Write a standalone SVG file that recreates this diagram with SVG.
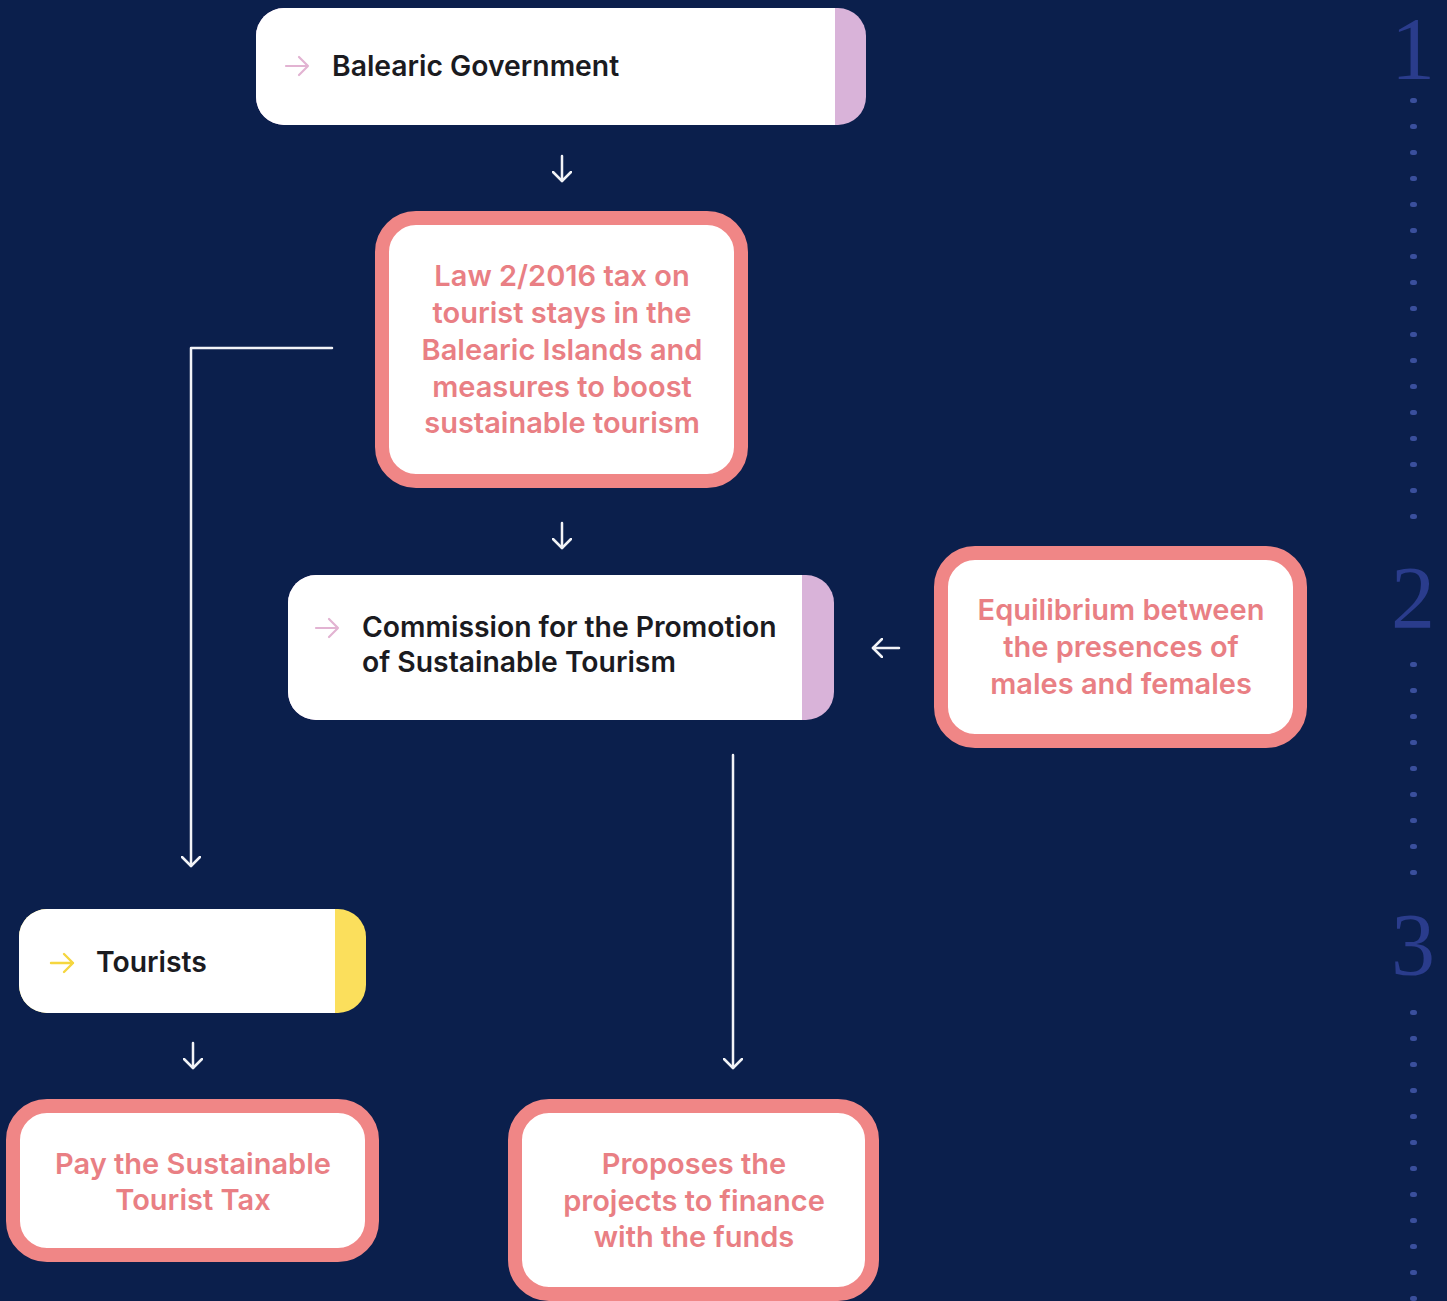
<svg xmlns="http://www.w3.org/2000/svg" width="1447" height="1301" viewBox="0 0 1447 1301">
<defs>
<style>
.dark{font-family:Inter,"Liberation Sans",sans-serif;font-weight:600;font-size:28.3px;fill:#1b1b1f}
.pink{font-family:Inter,"Liberation Sans",sans-serif;font-weight:600;font-size:29px;fill:#e97f84;text-anchor:middle}
.pbox{fill:#ffffff;stroke:#f08686;stroke-width:14}
.conn{fill:none;stroke:#f2f3f7;stroke-width:2.5;stroke-linecap:round;stroke-linejoin:round}
.num{font-family:"Liberation Serif","DejaVu Serif",serif;font-size:88px;fill:#2a3c8c;text-anchor:middle}
.dot{fill:#3a4f9c}
</style>
<marker id="chev" viewBox="0 0 20 20" refX="10" refY="10" markerWidth="20" markerHeight="20" markerUnits="userSpaceOnUse" orient="auto">
<path d="M1 1 L10 10 L1 19" fill="none" stroke="#f2f3f7" stroke-width="2.5" stroke-linecap="round" stroke-linejoin="round"/>
</marker>
</defs>
<rect width="1447" height="1301" fill="#0b1f4c"/>

<g id="steps">
<text class="num" x="1413" y="78">1</text>
<text class="num" x="1413" y="627">2</text>
<text class="num" x="1413" y="974">3</text>
<g id="dots1">
<rect class="dot" x="1410" y="98" width="7" height="5" rx="2.5"/>
<rect class="dot" x="1410" y="124" width="7" height="5" rx="2.5"/>
<rect class="dot" x="1410" y="150" width="7" height="5" rx="2.5"/>
<rect class="dot" x="1410" y="176" width="7" height="5" rx="2.5"/>
<rect class="dot" x="1410" y="202" width="7" height="5" rx="2.5"/>
<rect class="dot" x="1410" y="228" width="7" height="5" rx="2.5"/>
<rect class="dot" x="1410" y="254" width="7" height="5" rx="2.5"/>
<rect class="dot" x="1410" y="280" width="7" height="5" rx="2.5"/>
<rect class="dot" x="1410" y="306" width="7" height="5" rx="2.5"/>
<rect class="dot" x="1410" y="332" width="7" height="5" rx="2.5"/>
<rect class="dot" x="1410" y="358" width="7" height="5" rx="2.5"/>
<rect class="dot" x="1410" y="384" width="7" height="5" rx="2.5"/>
<rect class="dot" x="1410" y="410" width="7" height="5" rx="2.5"/>
<rect class="dot" x="1410" y="436" width="7" height="5" rx="2.5"/>
<rect class="dot" x="1410" y="462" width="7" height="5" rx="2.5"/>
<rect class="dot" x="1410" y="488" width="7" height="5" rx="2.5"/>
<rect class="dot" x="1410" y="514" width="7" height="5" rx="2.5"/>
</g>
<g id="dots2">
<rect class="dot" x="1410" y="662" width="7" height="5" rx="2.5"/>
<rect class="dot" x="1410" y="688" width="7" height="5" rx="2.5"/>
<rect class="dot" x="1410" y="714" width="7" height="5" rx="2.5"/>
<rect class="dot" x="1410" y="740" width="7" height="5" rx="2.5"/>
<rect class="dot" x="1410" y="766" width="7" height="5" rx="2.5"/>
<rect class="dot" x="1410" y="792" width="7" height="5" rx="2.5"/>
<rect class="dot" x="1410" y="818" width="7" height="5" rx="2.5"/>
<rect class="dot" x="1410" y="844" width="7" height="5" rx="2.5"/>
<rect class="dot" x="1410" y="870" width="7" height="5" rx="2.5"/>
</g>
<g id="dots3">
<rect class="dot" x="1410" y="1010" width="7" height="5" rx="2.5"/>
<rect class="dot" x="1410" y="1036" width="7" height="5" rx="2.5"/>
<rect class="dot" x="1410" y="1062" width="7" height="5" rx="2.5"/>
<rect class="dot" x="1410" y="1088" width="7" height="5" rx="2.5"/>
<rect class="dot" x="1410" y="1114" width="7" height="5" rx="2.5"/>
<rect class="dot" x="1410" y="1140" width="7" height="5" rx="2.5"/>
<rect class="dot" x="1410" y="1166" width="7" height="5" rx="2.5"/>
<rect class="dot" x="1410" y="1192" width="7" height="5" rx="2.5"/>
<rect class="dot" x="1410" y="1218" width="7" height="5" rx="2.5"/>
<rect class="dot" x="1410" y="1244" width="7" height="5" rx="2.5"/>
<rect class="dot" x="1410" y="1270" width="7" height="5" rx="2.5"/>
<rect class="dot" x="1410" y="1296" width="7" height="5" rx="2.5"/>
</g>
</g>

<g id="connectors">
<path class="conn" d="M562 156 V181" marker-end="url(#chev)"/>
<path class="conn" d="M562 523 V548" marker-end="url(#chev)"/>
<path class="conn" d="M899 648 H873" marker-end="url(#chev)"/>
<path class="conn" d="M332 348 H191 V866" marker-end="url(#chev)"/>
<path class="conn" d="M733 755 V1068" marker-end="url(#chev)"/>
<path class="conn" d="M193 1043 V1068" marker-end="url(#chev)"/>
</g>

<g id="node-balearic-government">
<rect x="256" y="8" width="610" height="117" rx="28" fill="#d9b3d9"/>
<path d="M284 8 H835 V125 H284 A28 28 0 0 1 256 97 V36 A28 28 0 0 1 284 8 Z" fill="#ffffff"/>
<path d="M286 66 H308 M299 57 L308 66 L299 75" fill="none" stroke="#e2b3d2" stroke-width="2.2" stroke-linecap="round" stroke-linejoin="round"/>
<text class="dark" x="332" y="76">Balearic Government</text>
</g>

<g id="node-law">
<rect class="pbox" x="382" y="218" width="359" height="263" rx="34"/>
<text class="pink" x="562" y="286">Law 2/2016 tax on</text>
<text class="pink" x="562" y="323">tourist stays in the</text>
<text class="pink" x="562" y="360">Balearic Islands and</text>
<text class="pink" x="562" y="397">measures to boost</text>
<text class="pink" x="562" y="433">sustainable tourism</text>
</g>

<g id="node-commission">
<rect x="288" y="575" width="546" height="145" rx="28" fill="#d9b3d9"/>
<path d="M316 575 H802 V720 H316 A28 28 0 0 1 288 692 V603 A28 28 0 0 1 316 575 Z" fill="#ffffff"/>
<path d="M316 628 H338 M329 619 L338 628 L329 637" fill="none" stroke="#e2b3d2" stroke-width="2.2" stroke-linecap="round" stroke-linejoin="round"/>
<text class="dark" x="362" y="637">Commission for the Promotion</text>
<text class="dark" x="362" y="672">of Sustainable Tourism</text>
</g>

<g id="node-equilibrium">
<rect class="pbox" x="941" y="553" width="359" height="188" rx="34"/>
<text class="pink" x="1121" y="620">Equilibrium between</text>
<text class="pink" x="1121" y="657">the presences of</text>
<text class="pink" x="1121" y="694">males and females</text>
</g>

<g id="node-tourists">
<rect x="19" y="909" width="347" height="104" rx="28" fill="#fbdf5c"/>
<path d="M47 909 H335 V1013 H47 A28 28 0 0 1 19 985 V937 A28 28 0 0 1 47 909 Z" fill="#ffffff"/>
<path d="M51 963 H73 M64 954 L73 963 L64 972" fill="none" stroke="#f5d63f" stroke-width="2.4" stroke-linecap="round" stroke-linejoin="round"/>
<text class="dark" x="96" y="972">Tourists</text>
</g>

<g id="node-pay">
<rect class="pbox" x="13" y="1106" width="359" height="149" rx="34"/>
<text class="pink" x="193" y="1174">Pay the Sustainable</text>
<text class="pink" x="193" y="1210">Tourist Tax</text>
</g>

<g id="node-proposes">
<rect class="pbox" x="515" y="1106" width="357" height="188" rx="34"/>
<text class="pink" x="694" y="1174">Proposes the</text>
<text class="pink" x="694" y="1211">projects to finance</text>
<text class="pink" x="694" y="1247">with the funds</text>
</g>
</svg>
